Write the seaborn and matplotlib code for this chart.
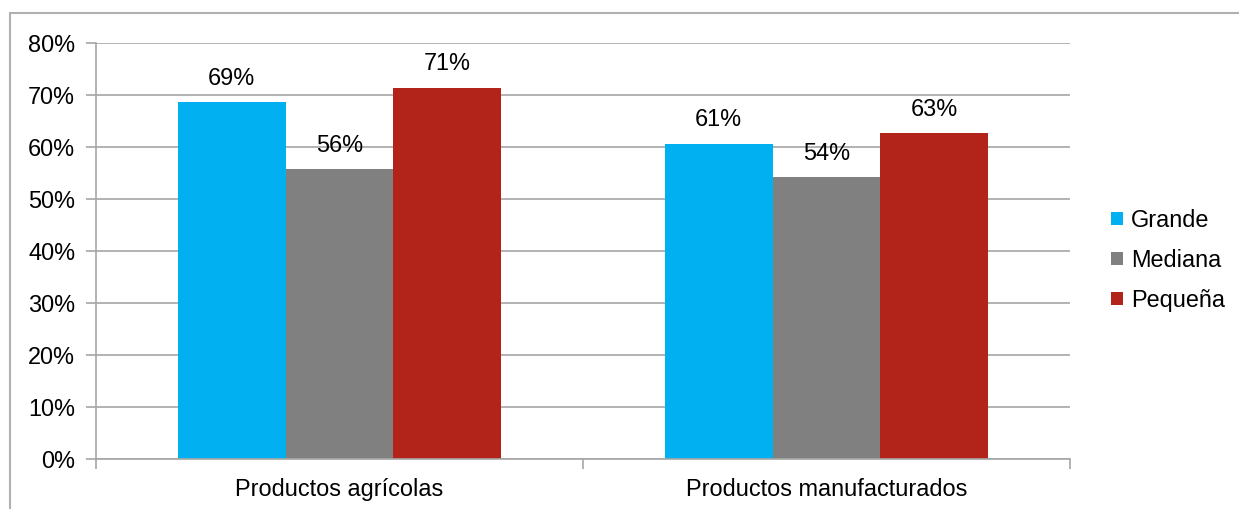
import matplotlib
matplotlib.use("Agg")
import matplotlib.pyplot as plt
from matplotlib.patches import Rectangle
from matplotlib.ticker import FixedLocator, PercentFormatter
import seaborn as sns
import pandas as pd

categories = ["Productos agrícolas", "Productos manufacturados"]
sizes = ["Grande", "Mediana", "Pequeña"]
grande = [68.6, 60.6]
mediana = [55.7, 54.2]
pequena = [71.4, 62.6]
colors = ["#00B0F0", "#808080", "#B2231A"]
y_ticks = [0, 10, 20, 30, 40, 50, 60, 70, 80]

rows = []
for size, vals in zip(sizes, [grande, mediana, pequena]):
    for cat, v in zip(categories, vals):
        rows.append({"Producto": cat, "Tamaño": size, "Valor": v})
df = pd.DataFrame(rows)

sns.set_theme(style="white")
plt.rcParams["font.family"] = ["Liberation Sans", "DejaVu Sans"]
plt.rcParams["text.color"] = "black"

fig = plt.figure(figsize=(12.39, 5.09), dpi=100)
ax = fig.add_axes([96 / 1239, 1 - 459 / 509, (1070 - 96) / 1239, (459 - 43) / 509])

sns.barplot(data=df, x="Producto", y="Valor", hue="Tamaño", palette=colors,
            order=categories, hue_order=sizes, width=0.665, saturation=1,
            errorbar=None, ax=ax, edgecolor="none", linewidth=0)

ax.set_xlim(-0.5, 1.5)
ax.set_ylim(0, 80)
ax.set_yticks(y_ticks)
ax.yaxis.set_major_formatter(PercentFormatter(decimals=0))
ax.yaxis.grid(True, color="#A6A6A6", linewidth=1.2)
ax.set_axisbelow(True)
ax.set_xlabel("")
ax.set_ylabel("")

for side in ["top", "right"]:
    ax.spines[side].set_visible(False)
for side in ["left", "bottom"]:
    ax.spines[side].set_color("#A6A6A6")
    ax.spines[side].set_linewidth(1.2)

ax.tick_params(axis="y", which="major", length=7, width=1.2, color="#A6A6A6",
               labelsize=16.9, labelcolor="black", pad=8, left=True)
ax.tick_params(axis="x", which="major", length=0, labelsize=16.9,
               labelcolor="black", pad=14)
ax.xaxis.set_minor_locator(FixedLocator([-0.5, 0.5, 1.5]))
ax.tick_params(axis="x", which="minor", length=7, width=1.2, color="#A6A6A6",
               bottom=True)

for container in ax.containers:
    ax.bar_label(container, fmt="%.0f%%", padding=9, fontsize=16.9, color="black")

handles, labels = ax.get_legend_handles_labels()
leg = ax.legend(handles, labels, loc="center left", bbox_to_anchor=(1.042, 0.478),
                frameon=False, fontsize=16.9, handlelength=0.5, handleheight=0.5,
                handletextpad=0.35, labelspacing=0.72, borderpad=0, borderaxespad=0)
for t in leg.get_texts():
    t.set_color("black")

fig.add_artist(Rectangle((10 / 1239, -0.05), 1.1, 1 - 13 / 509 + 0.05,
                         transform=fig.transFigure, fill=False,
                         edgecolor="#B0B0B0", linewidth=1.5))

fig.savefig("out.png", dpi=100, facecolor="white")
